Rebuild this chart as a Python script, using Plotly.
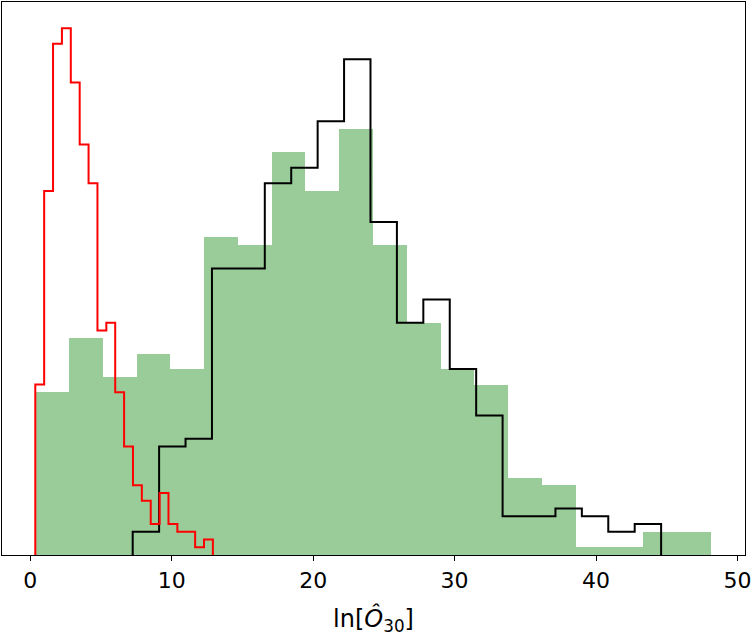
import numpy as np
import plotly.graph_objects as go

# Histogram counts (500 samples each, 20 bins each)
green_counts = [21, 28, 23, 26, 24, 41, 40, 52, 47, 55, 40, 30, 24, 22, 10, 9, 1, 1, 3, 3]
black_counts = [3, 14, 15, 37, 37, 48, 50, 56, 64, 43, 30, 33, 24, 18, 5, 5, 6, 5, 3, 4]
red_counts = [22, 47, 66, 68, 61, 53, 48, 29, 30, 21, 14, 9, 7, 4, 8, 4, 3, 3, 1, 2]

# Bin ranges (data min / max of each sample)
green_range = (0.353, 48.11)
black_range = (7.24, 44.60)
red_range = (0.353, 12.91)

x_ticks = [0, 10, 20, 30, 40, 50]
x_label = "ln[<i>Ô</i><sub>30</sub>]"


def edges(rng, n):
    return np.linspace(rng[0], rng[1], n + 1)


def step_xy(counts, rng):
    e = edges(rng, len(counts))
    xs = [e[0]] + list(e[:-1]) + [e[-1], e[-1]]
    ys = [0] + list(counts) + [counts[-1], 0]
    return xs, ys


fig = go.Figure()

ge = edges(green_range, len(green_counts))
fig.add_trace(go.Bar(
    x=(ge[:-1] + ge[1:]) / 2,
    y=green_counts,
    width=np.diff(ge),
    marker=dict(color="rgba(0,128,0,0.4)", line=dict(width=0)),
    showlegend=False,
))

bx, by = step_xy(black_counts, black_range)
fig.add_trace(go.Scatter(x=bx, y=by, mode="lines", line=dict(color="black", width=2, shape="hv"),
                         showlegend=False))

rx, ry = step_xy(red_counts, red_range)
fig.add_trace(go.Scatter(x=rx, y=ry, mode="lines", line=dict(color="red", width=2, shape="hv"),
                         showlegend=False))

ymax = max(max(green_counts), max(black_counts), max(red_counts)) * 1.05

fig.update_layout(
    width=755, height=636, autosize=False,
    margin=dict(l=2, r=10, t=2, b=81),
    plot_bgcolor="white", paper_bgcolor="white",
    bargap=0,
    font=dict(family="DejaVu Sans", color="black"),
    xaxis=dict(
        range=[-2.0, 50.53], tickvals=x_ticks, ticktext=[str(t) for t in x_ticks],
        ticks="outside", ticklen=5, tickwidth=1.2, tickcolor="black",
        showline=True, linecolor="black", linewidth=1.3, mirror=True,
        showgrid=False, zeroline=False,
        tickfont=dict(size=22, family="DejaVu Sans"),
        title=dict(text=x_label, font=dict(size=24, family="DejaVu Sans"), standoff=20),
    ),
    yaxis=dict(
        range=[0, ymax], showticklabels=False, ticks="",
        showline=True, linecolor="black", linewidth=1.3, mirror=True,
        showgrid=False, zeroline=False,
    ),
)

fig.write_html("out.html")
